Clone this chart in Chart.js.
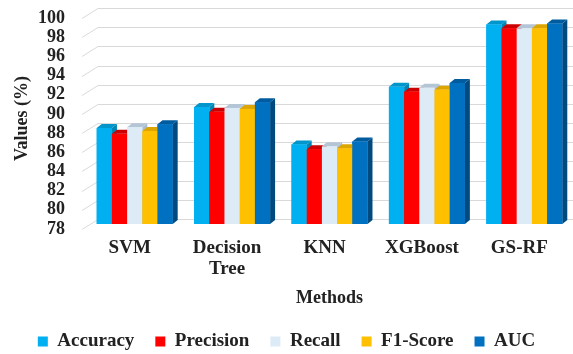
<!DOCTYPE html>
<html>
<head>
<meta charset="utf-8">
<script src="https://cdn.jsdelivr.net/npm/chart.js@4.4.1/dist/chart.umd.min.js"></script>
<style>
    html, body { margin: 0; padding: 0; background: #fff; }
    #wrap { width: 573px; height: 354px; }
</style>
</head>
<body>
<div id="wrap"><canvas id="methodsChart"></canvas></div>
<script>
const methods = ['SVM', ['Decision', 'Tree'], 'KNN', 'XGBoost', 'GS-RF'];
const accuracy = [88.0, 90.2, 86.3, 92.3, 98.8];
const precision = [87.4, 89.7, 85.8, 91.8, 98.4];
const recall = [88.1, 90.1, 86.1, 92.2, 98.4];
const f1Score = [87.7, 90.0, 85.9, 92.0, 98.4];
const auc = [88.4, 90.7, 86.6, 92.7, 98.9];
const yTicks = [78, 80, 82, 84, 86, 88, 90, 92, 94, 96, 98, 100];

const serif = "'Liberation Serif', 'Times New Roman', serif";

// front / side / top shades for the 3D look
const shades = [
    { front: '#00B0F0', side: '#0085B5', top: '#0096CC' },
    { front: '#FF0000', side: '#A80000', top: '#CC0000' },
    { front: '#DDEBF7', side: '#A9BCCF', top: '#B4C5D6' },
    { front: '#FFC000', side: '#C08F00', top: '#DDA500' },
    { front: '#0070C0', side: '#004A80', top: '#005C9E' }
];
const depthX = 5;
const depthY = 4;
const wallShift = 5;

// slanted wall gridlines drawn behind the bars
const wallGrid = {
    id: 'wallGrid',
    beforeDatasetsDraw(chart) {
        const ctx = chart.ctx;
        const y = chart.scales.y;
        ctx.save();
        ctx.strokeStyle = '#d9d9d9';
        ctx.lineWidth = 1;
        yTicks.forEach(v => {
            const py = Math.round(y.getPixelForValue(v)) + 0.5;
            ctx.beginPath();
            ctx.moveTo(82, py + wallShift);
            ctx.lineTo(98, py - wallShift);
            ctx.lineTo(chart.width, py - wallShift);
            ctx.stroke();
        });
        ctx.restore();
    }
};

// redraw each bar with a side and a top face, left to right
const bars3d = {
    id: 'bars3d',
    afterDatasetsDraw(chart) {
        const ctx = chart.ctx;
        const floor = chart.chartArea.bottom;
        const metas = chart.data.datasets.map((d, i) => chart.getDatasetMeta(i));
        ctx.save();
        for (let j = 0; j < chart.data.labels.length; j++) {
            metas.forEach((meta, i) => {
                const bar = meta.data[j];
                const p = bar.getProps(['x', 'y', 'base', 'width'], true);
                const left = p.x - p.width / 2;
                const right = p.x + p.width / 2;
                const top = p.y;
                const base = Math.min(p.base, floor);
                const c = shades[i];

                ctx.fillStyle = c.side;
                ctx.beginPath();
                ctx.moveTo(right, top);
                ctx.lineTo(right + depthX, top - depthY);
                ctx.lineTo(right + depthX, base - depthY);
                ctx.lineTo(right, base);
                ctx.closePath();
                ctx.fill();

                ctx.fillStyle = c.top;
                ctx.beginPath();
                ctx.moveTo(left, top);
                ctx.lineTo(left + depthX, top - depthY);
                ctx.lineTo(right + depthX, top - depthY);
                ctx.lineTo(right, top);
                ctx.closePath();
                ctx.fill();

                ctx.fillStyle = c.front;
                ctx.fillRect(left, top, p.width, base - top);
            });
        }
        ctx.restore();
    }
};

const series = [
    { label: 'Accuracy', data: accuracy },
    { label: 'Precision', data: precision },
    { label: 'Recall', data: recall },
    { label: 'F1-Score', data: f1Score },
    { label: 'AUC', data: auc }
];

new Chart(document.getElementById('methodsChart'), {
    type: 'bar',
    data: {
        labels: methods,
        datasets: series.map((s, i) => ({
            label: s.label,
            data: s.data,
            backgroundColor: shades[i].front,
            borderWidth: 0,
            categoryPercentage: 0.78,
            barPercentage: 1.0
        }))
    },
    options: {
        responsive: true,
        maintainAspectRatio: false,
        animation: false,
        layout: { padding: { top: 13, right: 0, bottom: -7, left: 0 } },
        plugins: {
            tooltip: { enabled: false },
            legend: {
                position: 'bottom',
                labels: {
                    boxWidth: 10,
                    boxHeight: 10,
                    padding: 21,
                    color: '#222',
                    font: { family: serif, size: 19, weight: 'bold' }
                }
            }
        },
        scales: {
            x: {
                grid: { display: false, drawTicks: false },
                border: { display: false },
                ticks: {
                    color: '#222',
                    padding: 14,
                    labelOffset: -5,
                    font: { family: serif, size: 19, weight: 'bold', lineHeight: 1.1 }
                },
                title: {
                    display: true,
                    text: 'Methods',
                    color: '#222',
                    padding: { top: 0, bottom: 2 },
                    font: { family: serif, size: 18, weight: 'bold' }
                },
                afterFit(scale) { scale.height = 87; }
            },
            y: {
                min: 78,
                max: 100,
                grid: { display: false, drawTicks: false, tickLength: 0 },
                border: { display: false },
                ticks: {
                    stepSize: 2,
                    autoSkip: false,
                    padding: 21,
                    labelOffset: wallShift,
                    color: '#222',
                    font: { family: serif, size: 18, weight: 'bold' }
                },
                title: {
                    display: true,
                    text: 'Values (%)',
                    color: '#222',
                    padding: { top: 12, bottom: 0 },
                    font: { family: serif, size: 18, weight: 'bold' }
                },
                afterFit(scale) {
                    scale.width = 86;
                    scale.paddingTop = 0;
                    scale.paddingBottom = 0;
                }
            }
        }
    },
    plugins: [wallGrid, bars3d]
});
</script>
</body>
</html>
